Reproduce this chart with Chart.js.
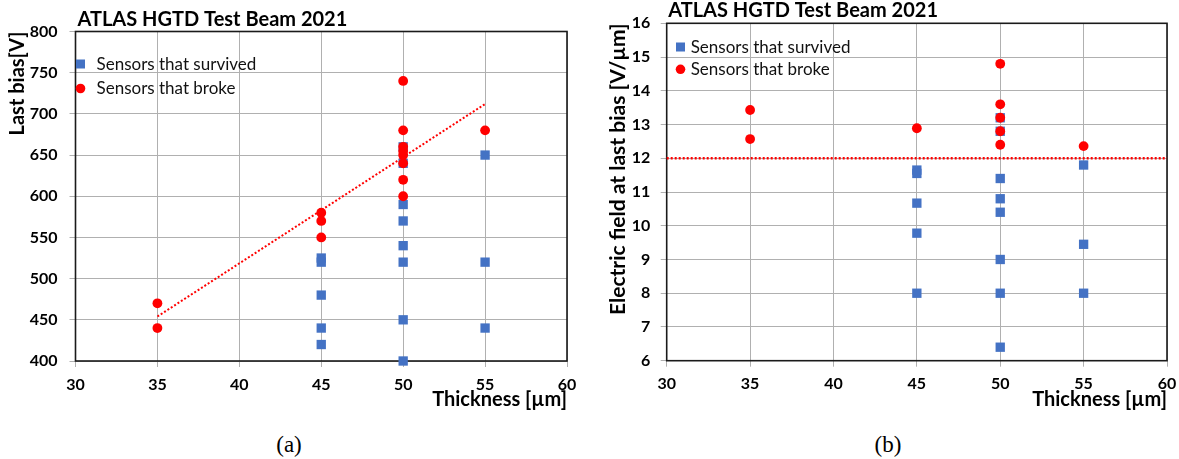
<!DOCTYPE html>
<html>
<head>
<meta charset="utf-8">
<script src="https://cdn.jsdelivr.net/npm/chart.js@4/dist/chart.umd.min.js"></script>
<style>
  html, body { margin: 0; padding: 0; background: #fff; }
  body { width: 1179px; height: 459px; position: relative; overflow: hidden; }
  .box { position: absolute; top: 0; }
  .cap { position: absolute; top: 432px; width: 60px; text-align: center;
         font-family: "Liberation Serif", "Times New Roman", serif; font-size: 23px; color: #000; }
</style>
</head>
<body>
<div class="box" style="left:0px"><canvas id="chartA" width="590" height="420"></canvas></div>
<div class="box" style="left:590px"><canvas id="chartB" width="589" height="420"></canvas></div>
<div class="cap" style="left:259px">(a)</div>
<div class="cap" style="left:858px">(b)</div>
<script>
// ---------- data ----------
const chartTitle = "ATLAS HGTD Test Beam 2021";
const labelSurvived = "Sensors that survived";
const labelBroke = "Sensors that broke";
const xAxisTitle = "Thickness [µm]";
const yTitleBias = "Last bias[V]";
const yTitleField = "Electric field at last bias [V/µm]";

// Panel (a): last bias [V]
const thicknessSurvivedA = [45, 45, 45, 45, 45, 50, 50, 50, 50, 50, 50, 50, 50, 55, 55, 55];
const biasSurvived       = [525, 520, 480, 440, 420, 660, 640, 590, 570, 540, 520, 450, 400, 650, 520, 440];
const thicknessBrokeA    = [35, 35, 45, 45, 45, 50, 50, 50, 50, 50, 50, 50, 50, 55];
const biasBroke          = [470, 440, 580, 570, 550, 740, 680, 660, 655, 650, 640, 620, 600, 680];
const biasTrendX = [35, 55];
const biasTrendY = [454, 712];

// Panel (b): electric field at last bias [V/µm]
const thicknessSurvivedB = [45, 45, 45, 45, 45, 50, 50, 50, 50, 50, 50, 50, 50, 55, 55, 55];
const fieldSurvived      = [11.65, 11.55, 10.67, 9.78, 8.0, 13.2, 12.8, 11.4, 10.8, 10.4, 9.0, 8.0, 6.4, 11.8, 9.45, 8.0];
const thicknessBrokeB    = [35, 35, 45, 50, 50, 50, 50, 50, 55];
const fieldBroke         = [13.43, 12.57, 12.89, 14.8, 13.6, 13.2, 12.8, 12.4, 12.36];
const fieldLimitX = [30, 60];
const fieldLimitY = [12, 12];

// axis ranges / tick steps
const xMin = 30, xMax = 60, xStep = 5;
const biasMin = 400, biasMax = 800, biasStep = 50;
const fieldMin = 6, fieldMax = 16, fieldStep = 1;

// ---------- helpers ----------
const BLUE = '#4472C4';
const RED = '#FF0000';
function pts(xs, ys) { return xs.map((x, i) => ({ x: x, y: ys[i] })); }

Chart.defaults.font.family = 'Lato, "Open Sans", sans-serif';
Chart.defaults.color = '#000';

const framePlugin = {
  id: 'frame',
  beforeDatasetsDraw(chart) {
    const { ctx, chartArea: a } = chart;
    ctx.save();
    ctx.strokeStyle = '#1a1a1a';
    ctx.lineWidth = 1.6;
    ctx.strokeRect(a.left, a.top, a.right - a.left, a.bottom - a.top);
    ctx.restore();
  }
};

const cornerTitlePlugin = {
  id: 'cornerTitle',
  afterDraw(chart, args, o) {
    const { ctx, chartArea: a } = chart;
    ctx.save();
    ctx.font = 'bold ' + o.size + 'px Lato, sans-serif';
    ctx.fillStyle = '#000';
    ctx.textAlign = 'left';
    ctx.textBaseline = 'alphabetic';
    ctx.fillText(o.text, a.left + o.dx, a.top - o.dy);
    ctx.restore();
  }
};

const innerLegendPlugin = {
  id: 'innerLegend',
  afterDatasetsDraw(chart, args, o) {
    const { ctx, chartArea: a } = chart;
    ctx.save();
    ctx.font = o.size + 'px Lato, sans-serif';
    ctx.textBaseline = 'middle';
    ctx.textAlign = 'left';
    let row = 0;
    chart.data.datasets.forEach(ds => {
      if (!ds.inLegend) return;
      const mx = a.left + o.markerDx;
      const my = a.top + o.firstDy + row * o.rowGap;
      ctx.fillStyle = ds.pointBackgroundColor;
      if (ds.pointStyle === 'rect') {
        ctx.fillRect(mx - 4.5, my - 4.5, 9, 9);
      } else {
        ctx.beginPath();
        ctx.arc(mx, my, 4.8, 0, Math.PI * 2);
        ctx.fill();
      }
      ctx.fillStyle = '#111';
      ctx.fillText(ds.label, a.left + o.textDx, my + 0.5);
      row++;
    });
    ctx.restore();
  }
};

function makeChart(id, cfg) {
  const gridCommon = { color: '#b0b0b0', lineWidth: 1, tickLength: 6, drawTicks: true };
  return new Chart(document.getElementById(id), {
    type: 'scatter',
    data: { datasets: cfg.datasets },
    options: {
      responsive: false,
      animation: false,
      devicePixelRatio: 1,
      layout: { padding: { left: 0, right: cfg.padRight, top: cfg.padTop, bottom: 0 } },
      plugins: {
        legend: { display: false },
        tooltip: { enabled: false },
        cornerTitle: { text: chartTitle, size: 20, dx: cfg.titleDx, dy: cfg.titleDy },
        innerLegend: cfg.legend
      },
      scales: {
        x: {
          type: 'linear', min: xMin, max: xMax,
          afterFit: s => { s.height = cfg.xAxisHeight; s.paddingLeft = 0; s.paddingRight = 0; },
          ticks: { stepSize: xStep, padding: 8, font: { size: 16, weight: 'bold' }, color: '#000', maxRotation: 0 },
          grid: gridCommon,
          border: { display: false },
          title: { display: true, text: xAxisTitle, align: 'end', color: '#000',
                   font: { size: 20, weight: 'bold' }, padding: { top: 0, bottom: 8 } }
        },
        y: {
          type: 'linear', min: cfg.yMin, max: cfg.yMax,
          afterFit: s => { s.width = cfg.yAxisWidth; s.paddingTop = 0; s.paddingBottom = 0; },
          ticks: { stepSize: cfg.yStep, padding: cfg.yTickPad, font: { size: 16, weight: 'bold' }, color: '#000' },
          grid: gridCommon,
          border: { display: false },
          title: { display: true, text: cfg.yTitle, align: 'end', color: '#000',
                   font: { size: cfg.yTitleSize, weight: 'bold' }, padding: { top: cfg.yTitlePad, bottom: 0 } }
        }
      }
    },
    plugins: [framePlugin, cornerTitlePlugin, innerLegendPlugin]
  });
}

function markerSets(survX, survY, brokeX, brokeY) {
  return [
    { label: labelBroke, inLegend: true, data: pts(brokeX, brokeY), order: 0,
      pointStyle: 'circle', pointRadius: 4.9, pointBorderWidth: 0,
      pointBackgroundColor: RED, backgroundColor: RED, borderColor: RED, clip: false },
    { label: labelSurvived, inLegend: true, data: pts(survX, survY), order: 1,
      pointStyle: 'rect', pointRadius: 6.6, pointBorderWidth: 0,
      pointBackgroundColor: BLUE, backgroundColor: BLUE, borderColor: BLUE, clip: false }
  ];
}

function lineSet(label, xs, ys, w) {
  return { label: label, inLegend: false, data: pts(xs, ys), order: 2, showLine: true,
           borderColor: RED, borderWidth: w, borderDash: [2, 2], pointRadius: 0,
           fill: false, clip: false };
}

// legend order in reference: survived first, then broke
function legendOrdered(sets) { return [sets[1], sets[0]]; }

const setsA = markerSets(thicknessSurvivedA, biasSurvived, thicknessBrokeA, biasBroke);
makeChart('chartA', {
  datasets: legendOrdered(setsA).concat([lineSet('Linear trend', biasTrendX, biasTrendY, 2)]),
  padRight: 23, padTop: 31.5, xAxisHeight: 59, yAxisWidth: 75.5, yTickPad: 12,
  yMin: biasMin, yMax: biasMax, yStep: biasStep, yTitle: yTitleBias, yTitlePad: 6, yTitleSize: 20,
  titleDx: 2, titleDy: 5.5,
  legend: { size: 17, markerDx: 5, firstDy: 32.5, rowGap: 24.5, textDx: 21 }
});

const setsB = markerSets(thicknessSurvivedB, fieldSurvived, thicknessBrokeB, fieldBroke);
makeChart('chartB', {
  datasets: legendOrdered(setsB).concat([lineSet('12 V/µm', fieldLimitX, fieldLimitY, 2.5)]),
  padRight: 12, padTop: 23.3, xAxisHeight: 59.3, yAxisWidth: 76.7, yTickPad: 10.5,
  yMin: fieldMin, yMax: fieldMax, yStep: fieldStep, yTitle: yTitleField, yTitlePad: 16, yTitleSize: 21,
  titleDx: 1.5, titleDy: 6,
  legend: { size: 17, markerDx: 13.8, firstDy: 23.7, rowGap: 22.3, textDx: 24 }
});
</script>
</body>
</html>
